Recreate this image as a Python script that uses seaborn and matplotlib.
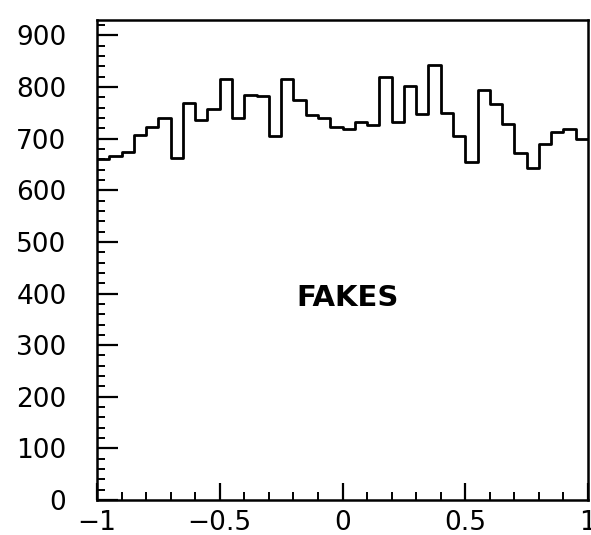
import numpy as np
import pandas as pd
import matplotlib
matplotlib.use("Agg")
import matplotlib.pyplot as plt
from matplotlib.ticker import MultipleLocator
import seaborn as sns

# 40 bins of width 0.05 from -1 to 1
bin_lo, bin_hi, bin_width = -1.0, 1.0, 0.05
counts = [661, 667, 675, 708, 722, 741, 663, 770, 737, 758,
          815, 741, 785, 782, 706, 815, 775, 745, 740, 722,
          718, 732, 727, 819, 732, 802, 747, 842, 749, 706,
          654, 795, 768, 728, 672, 644, 689, 713, 718, 699]
x_ticks = [-1, -0.5, 0, 0.5, 1]
x_tick_labels = ["\u22121", "\u22120.5", "0", "0.5", "1"]
y_ticks = [0, 100, 200, 300, 400, 500, 600, 700, 800, 900]
annotation = "FAKES"

edges = np.linspace(bin_lo, bin_hi, len(counts) + 1)
centers = 0.5 * (edges[:-1] + edges[1:])
df = pd.DataFrame({"x": centers, "w": np.asarray(counts, dtype=float)})

sns.set_theme(style="white")
plt.rcParams["font.family"] = ["DejaVu Sans"]

fig = plt.figure(figsize=(5.91, 5.35), dpi=100)
ax = fig.add_axes([97 / 591, 35 / 535, (588 - 97) / 591, (500 - 20) / 535])

sns.histplot(data=df, x="x", weights="w", binwidth=bin_width,
             binrange=(bin_lo, bin_hi), element="step",
             fill=False, color="black", linewidth=2.0, ax=ax)

ax.set_xlim(-1, 1)
ax.set_ylim(0, 930)
ax.set_xticks(x_ticks)
ax.set_xticklabels(x_tick_labels)
ax.set_yticks(y_ticks)
ax.xaxis.set_minor_locator(MultipleLocator(0.1))
ax.yaxis.set_minor_locator(MultipleLocator(20))
ax.tick_params(axis="both", which="both", direction="in", colors="black",
               labelsize=19, top=False, right=False, bottom=True, left=True)
ax.tick_params(axis="x", which="major", length=12, width=1.6, pad=7)
ax.tick_params(axis="x", which="minor", length=6, width=1.4)
ax.tick_params(axis="y", which="major", length=15, width=1.6, pad=22)
ax.tick_params(axis="y", which="minor", length=6, width=1.4)
ax.set_xlabel("")
ax.set_ylabel("")
for s in ax.spines.values():
    s.set_visible(True)
    s.set_color("black")
    s.set_linewidth(1.8)

ax.text(0.02, 392, annotation, ha="center", va="center", fontsize=21,
        fontweight="heavy", color="black", family=["DejaVu Sans"])

fig.savefig("out.png", dpi=100)
